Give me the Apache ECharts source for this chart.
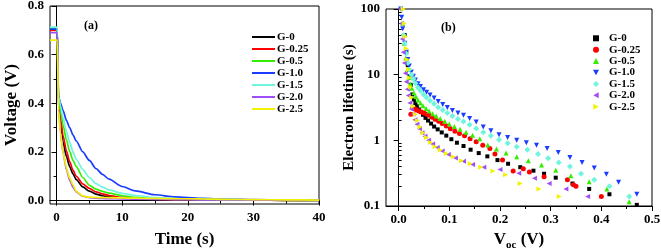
<!DOCTYPE html>
<html><head><meta charset="utf-8">
<script src="https://cdn.jsdelivr.net/npm/echarts@6/dist/echarts.min.js"></script>
<style>html,body{margin:0;padding:0;background:#fff}#c{width:661px;height:250px}</style>
</head><body><div id="c"></div>
<script>
const names = ['G-0','G-0.25','G-0.5','G-1.0','G-1.5','G-2.0','G-2.5'];
const colors = ['#000000','#ff0000','#33ee00','#1a3cff','#6ff5dd','#a24cf5','#f2f200'];
const symbols = ['rect','circle','triangle','path://M0,0L10,0L5,9Z','diamond','path://M9,0L9,10L0,5Z','path://M0,0L0,10L9,5Z'];
const symbolSizes = [4,5,5,5,6,5,5];

// Panel (a): voltage decay
const time = [-1, 0.1, 0.3, 0.6, 1, 1.5, 2, 2.5, 3, 4, 5, 6, 7, 8, 10, 12, 15, 18, 22, 26, 30, 35, 40];
const vG0   = [0.703,0.703,0.40,0.32,0.24,0.182,0.14,0.11,0.086,0.056,0.039,0.027,0.02,0.015,0.01,0.007,0.005,0.004,0.003,0.002,0.002,0.001,0.001];
const vG025 = [0.70,0.70,0.41,0.34,0.265,0.205,0.16,0.125,0.10,0.069,0.05,0.036,0.028,0.021,0.013,0.009,0.006,0.004,0.003,0.002,0.002,0.001,0.001];
const vG05  = [0.708,0.708,0.42,0.37,0.31,0.25,0.202,0.165,0.14,0.095,0.063,0.047,0.038,0.031,0.02,0.013,0.008,0.005,0.004,0.003,0.002,0.001,0.001];
const vG10  = [0.705,0.705,0.43,0.40,0.37,0.33,0.30,0.27,0.245,0.20,0.165,0.132,0.108,0.088,0.058,0.04,0.024,0.015,0.009,0.006,0.004,0.003,0.002];
const vG15  = [0.713,0.713,0.43,0.39,0.34,0.285,0.24,0.20,0.17,0.127,0.095,0.07,0.055,0.044,0.03,0.021,0.012,0.008,0.005,0.004,0.003,0.002,0.001];
const vG20  = [0.69,0.69,0.38,0.28,0.195,0.128,0.083,0.055,0.036,0.018,0.012,0.01,0.009,0.008,0.007,0.006,0.005,0.004,0.003,0.003,0.002,0.002,0.001];
const vG25  = [0.66,0.66,0.37,0.28,0.195,0.135,0.092,0.065,0.038,0.019,0.014,0.013,0.012,0.012,0.011,0.01,0.009,0.008,0.007,0.005,0.004,0.003,0.002];
const voltages = [vG0, vG025, vG05, vG10, vG15, vG20, vG25];

// Panel (b): electron lifetime vs Voc
const g0Voc = [0.012,0.015,0.018,0.021,0.024,0.027,0.03,0.033,0.036,0.04,0.044,0.048,0.053,0.058,0.064,0.07,0.077,0.085,0.094,0.104,0.115,0.128,0.142,0.158,0.175,0.195,0.216,0.24,0.266,0.287,0.31,0.343,0.376,0.416,0.47];
const g0Tau = [40,22,14,9.5,7,5.0,4.2,3.7,3.3,2.95,2.7,2.45,2.2,2.0,1.8,1.62,1.47,1.32,1.18,1.04,0.92,0.82,0.72,0.64,0.57,0.5,0.44,0.39,0.345,0.31,0.27,0.22,0.182,0.151,0.104];
const g025Voc = [0.024,0.028,0.032,0.036,0.04,0.045,0.05,0.055,0.06,0.066,0.072,0.079,0.086,0.094,0.102,0.111,0.12,0.13,0.141,0.153,0.166,0.18,0.19,0.205,0.226,0.246,0.258,0.287,0.333,0.345,0.35,0.4];
const g025Tau = [2.5,3.1,3.0,2.9,2.8,2.7,2.6,2.5,2.4,2.25,2.1,1.95,1.8,1.65,1.5,1.38,1.27,1.17,1.06,0.95,0.84,0.75,0.62,0.5,0.34,0.37,0.33,0.28,0.25,0.21,0.2,0.139];
const g05Voc = [0.008,0.011,0.014,0.017,0.02,0.023,0.026,0.03,0.034,0.038,0.043,0.048,0.054,0.06,0.067,0.074,0.082,0.091,0.1,0.11,0.121,0.133,0.146,0.16,0.176,0.193,0.212,0.233,0.256,0.282,0.31,0.34,0.376,0.411,0.455];
const g05Tau = [60,30,18,12,9,7.2,6.2,5.3,4.6,4.1,3.7,3.35,3.05,2.8,2.55,2.35,2.15,1.95,1.78,1.62,1.47,1.33,1.19,1.06,0.85,0.74,0.64,0.56,0.49,0.42,0.35,0.29,0.235,0.182,0.116];
const g10Voc = [0.004,0.006,0.008,0.01,0.012,0.015,0.018,0.021,0.025,0.029,0.033,0.038,0.043,0.049,0.055,0.062,0.07,0.078,0.087,0.096,0.106,0.117,0.128,0.14,0.153,0.167,0.182,0.198,0.215,0.233,0.252,0.272,0.293,0.315,0.338,0.362,0.386,0.41,0.434,0.47];
const g10Tau = [100,75,50,38,30,22,17,13.5,11,9.5,8.3,7.3,6.6,5.9,5.4,4.9,4.4,3.9,3.5,3.15,2.85,2.6,2.4,2.15,1.9,1.6,1.4,1.22,1.1,1.0,0.92,0.84,0.75,0.65,0.55,0.46,0.38,0.305,0.23,0.151];
const g15Voc = [0.006,0.008,0.01,0.012,0.015,0.018,0.021,0.025,0.029,0.033,0.038,0.043,0.049,0.055,0.062,0.07,0.078,0.087,0.096,0.106,0.117,0.128,0.14,0.153,0.167,0.182,0.198,0.215,0.233,0.254,0.275,0.295,0.316,0.338,0.36,0.386,0.416,0.455];
const g15Tau = [100,60,40,30,21,15,12,10,8.6,7.4,6.4,5.7,5.0,4.5,4.0,3.6,3.2,2.9,2.6,2.35,2.12,1.94,1.72,1.52,1.33,1.17,1.02,0.9,0.8,0.72,0.62,0.535,0.46,0.4,0.31,0.25,0.2,0.139];
const g20Voc = [0.003,0.005,0.007,0.009,0.011,0.013,0.015,0.017,0.019,0.022,0.025,0.028,0.032,0.036,0.041,0.046,0.052,0.059,0.067,0.076,0.086,0.098,0.112,0.128,0.146,0.168,0.2,0.237,0.268,0.297,0.33,0.373];
const g20Tau = [100,60,35,22,15,10.5,7.8,6,4.8,3.7,3.0,2.5,2.05,1.75,1.5,1.3,1.15,1.0,0.88,0.78,0.69,0.61,0.54,0.48,0.43,0.39,0.36,0.316,0.265,0.221,0.182,0.139];
const g25Voc = [0.009,0.011,0.013,0.015,0.017,0.019,0.021,0.023,0.026,0.029,0.033,0.037,0.042,0.048,0.055,0.063,0.072,0.082,0.094,0.108,0.124,0.141,0.162,0.186,0.211,0.24,0.277,0.317];
const g25Tau = [100,60,38,25,17,12,9,6.5,4.5,3.3,2.5,2.0,1.6,1.3,1.1,0.93,0.8,0.71,0.63,0.56,0.49,0.44,0.39,0.34,0.3,0.22,0.182,0.139];
const vocs = [g0Voc, g025Voc, g05Voc, g10Voc, g15Voc, g20Voc, g25Voc];
const taus = [g0Tau, g025Tau, g05Tau, g10Tau, g15Tau, g20Tau, g25Tau];

// Tick labels
const voltTicks = [0, 0.2, 0.4, 0.6, 0.8];
const voltMinor = [0.1, 0.3, 0.5, 0.7];
const timeTicks = [0, 10, 20, 30, 40];
const timeMinor = [5, 15, 25, 35];
const vocTicks = [0, 0.1, 0.2, 0.3, 0.4, 0.5];
const vocMinor = [0.05, 0.15, 0.25, 0.35, 0.45];
const tauTicks = [0.1, 1, 10, 100];
const tauMinor = [0.2,0.3,0.4,0.5,0.6,0.7,0.8,0.9,2,3,4,5,6,7,8,9,20,30,40,50,60,70,80,90];

const FONT = 'Liberation Serif';
const lbl = {color:'#000', fontFamily:FONT, fontWeight:'bold', fontSize:13};
const axLine = {show:true, lineStyle:{color:'#000', width:1}};

function mainAxis(o){
  return Object.assign({
    axisLine: axLine, splitLine:{show:false},
    nameTextStyle:{color:'#000', fontFamily:FONT, fontWeight:'bold', fontSize:17}
  }, o);
}
function minorAxis(o, vals, inside){
  return Object.assign({
    axisLine:{show:false}, splitLine:{show:false}, axisLabel:{show:false},
    axisTick:{show:true, customValues: vals, length:3, inside: !!inside, lineStyle:{color:'#000'}}
  }, o);
}

const series = [];
names.forEach((n, i) => {
  series.push({
    type:'line', name:n, xAxisIndex:0, yAxisIndex:0,
    data: time.map((t, k) => [t, voltages[i][k]]),
    showSymbol:false, symbol:'none', smooth:0.25, smoothMonotone:'x',
    lineStyle:{color:colors[i], width:1.7}, itemStyle:{color:colors[i]},
    animation:false
  });
});
names.forEach((n, i) => {
  series.push({
    type:'scatter', name:n + ' ', xAxisIndex:2, yAxisIndex:2,
    data: vocs[i].map((v, k) => [v, taus[i][k]]),
    symbol: symbols[i], symbolSize: symbolSizes[i],
    itemStyle:{color:colors[i], opacity:1}, animation:false
  });
});

const option = {
  backgroundColor:'#fff',
  animation:false,
  grid:[
    {left:50, top:6, width:269, height:198, show:true, borderColor:'#000', borderWidth:1, backgroundColor:'transparent', outerBoundsMode:'none'},
    {left:386, top:9, width:266, height:197, show:true, borderColor:'#000', borderWidth:1, backgroundColor:'transparent', outerBoundsMode:'none'}
  ],
  xAxis:[
    mainAxis({type:'value', gridIndex:0, min:-1, max:40, position:'bottom',
      name:'Time (s)', nameLocation:'middle', nameGap:27,
      axisTick:{show:true, customValues:timeTicks, length:5, lineStyle:{color:'#000'}},
      axisLabel:Object.assign({customValues:timeTicks, margin:7}, lbl)}),
    minorAxis({type:'value', gridIndex:0, min:-1, max:40, position:'bottom'}, timeMinor),
    mainAxis({type:'value', gridIndex:1, min:-0.025, max:0.5, position:'bottom',
      name:'{v|V}{s|oc}{v| (V)}', nameLocation:'middle', nameGap:21,
      nameTextStyle:{rich:{v:{color:'#000', fontFamily:FONT, fontWeight:'bold', fontSize:17},
                           s:{color:'#000', fontFamily:FONT, fontWeight:'bold', fontSize:11, verticalAlign:'bottom', padding:[0,0,-3,0]}}},
      axisTick:{show:true, customValues:vocTicks, length:5, lineStyle:{color:'#000'}},
      axisLabel:Object.assign({customValues:vocTicks, margin:7, formatter:v => v.toFixed(1)}, lbl)}),
    minorAxis({type:'value', gridIndex:1, min:-0.025, max:0.5, position:'bottom'}, vocMinor)
  ],
  yAxis:[
    mainAxis({type:'value', gridIndex:0, min:-0.014, max:0.8, position:'left',
      name:'Voltage (V)', nameLocation:'middle', nameGap:30, nameRotate:90,
      axisTick:{show:true, customValues:voltTicks, length:5, lineStyle:{color:'#000'}},
      axisLabel:Object.assign({customValues:voltTicks, margin:6, formatter:v => v.toFixed(1)}, lbl)}),
    minorAxis({type:'value', gridIndex:0, min:-0.014, max:0.8, position:'left'}, voltMinor),
    mainAxis({type:'log', logBase:10, gridIndex:1, min:0.1, max:100, position:'left',
      name:'Electron lifetime (s)', nameLocation:'middle', nameGap:17, nameRotate:90,
      nameTextStyle:{color:'#000', fontFamily:FONT, fontWeight:'bold', fontSize:15},
      axisTick:{show:true, customValues:tauTicks, length:5, lineStyle:{color:'#000'}},
      axisLabel:Object.assign({customValues:tauTicks, margin:6, formatter:v => (v < 1 ? '0.1' : String(Math.round(v)))}, lbl)}),
    minorAxis({type:'log', logBase:10, gridIndex:1, min:0.1, max:100, position:'left'}, tauMinor, true)
  ],
  legend:[
    {orient:'vertical', left:247, top:26, itemWidth:23, itemHeight:2, itemGap:0, icon:'rect',
     data:names, selectedMode:false,
     textStyle:{color:'#000', fontFamily:FONT, fontWeight:'bold', fontSize:11, lineHeight:12, padding:[0,0,0,-3]}},
    {orient:'vertical', left:588, top:27.6, itemWidth:6, itemHeight:6, itemGap:0,
     data:names.map(n => n + ' '), selectedMode:false, formatter: n => n.trim(),
     textStyle:{color:'#000', fontFamily:FONT, fontWeight:'bold', fontSize:11, lineHeight:11.4, padding:[0,0,0,5]}}
  ],
  graphic:[
    {type:'text', left:84, top:20, style:{text:'(a)', fill:'#000', font:'bold 12px "Liberation Serif"'}},
    {type:'text', left:441, top:22, style:{text:'(b)', fill:'#000', font:'bold 12px "Liberation Serif"'}}
  ],
  series: series
};
const chart = echarts.init(document.getElementById('c'), null, {renderer:'canvas'});
chart.setOption(option);
</script></body></html>
